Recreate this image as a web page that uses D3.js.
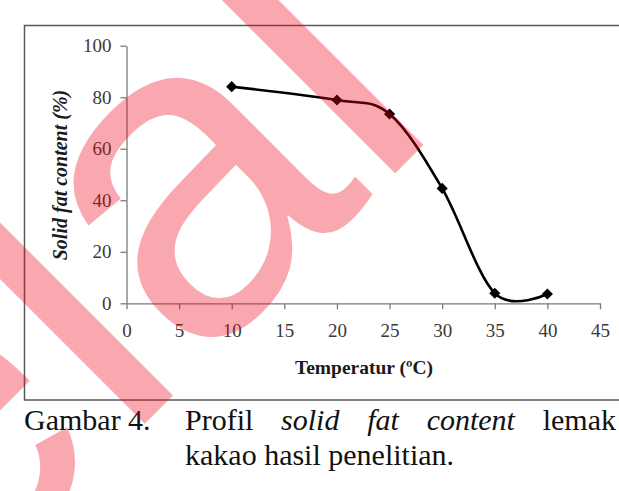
<!DOCTYPE html>
<html>
<head>
<meta charset="utf-8">
<script src="https://cdn.jsdelivr.net/npm/d3@7"></script>
<style>
  html, body { margin: 0; padding: 0; background: #fff; }
  svg { display: block; }
</style>
</head>
<body>
<div id="chart"></div>
<script>
// data
const temps = [10, 20, 25, 30, 35, 40];
const sfc = [84.1, 78.9, 73.5, 44.6, 3.9, 3.6];
const xTicks = [0, 5, 10, 15, 20, 25, 30, 35, 40, 45];
const yTicks = [0, 20, 40, 60, 80, 100];
const xTitle = "Temperatur (\u00baC)";
const yTitle = "Solid fat content (%)";
const captionLabel = "Gambar 4.";
const captionWords = [
  {text: "Profil", italic: false},
  {text: "solid", italic: true},
  {text: "fat", italic: true},
  {text: "content", italic: true},
  {text: "lemak", italic: false}
];
const captionLine2 = "kakao hasil penelitian.";
const stamp = "elal";

const W = 619, H = 491;
const serif = "'Liberation Serif', 'Times New Roman', serif";

const svg = d3.select("#chart")
  .append("svg")
  .attr("width", W)
  .attr("height", H);

// chart frame
svg.append("rect")
  .attr("x", 24.5)
  .attr("y", 25.5)
  .attr("width", 640)
  .attr("height", 374.5)
  .attr("fill", "none")
  .attr("stroke", "#5a5a5a")
  .attr("stroke-width", 1.5);

const x = d3.scaleLinear().domain([0, 45]).range([126.5, 600]);
const y = d3.scaleLinear().domain([0, 100]).range([303.3, 45.7]);

// y axis
const gy = svg.append("g")
  .attr("transform", `translate(${x(0)},0)`)
  .call(d3.axisLeft(y).tickValues(yTicks).tickSize(6).tickSizeOuter(0).tickPadding(9));
gy.select(".domain").attr("stroke", "#7a7a7a").attr("stroke-width", 1.3);
gy.selectAll(".tick line").attr("stroke", "#7a7a7a").attr("stroke-width", 1.3);
gy.selectAll(".tick text")
  .attr("font-family", serif)
  .attr("font-size", 19)
  .attr("fill", "#3a3a3a");

// x axis
const gx = svg.append("g")
  .attr("transform", `translate(0,${y(0)})`)
  .call(d3.axisBottom(x).tickValues(xTicks).tickSize(6).tickSizeOuter(0).tickPadding(14));
gx.select(".domain").attr("stroke", "#7a7a7a").attr("stroke-width", 1.3);
gx.selectAll(".tick line").attr("stroke", "#7a7a7a").attr("stroke-width", 1.3);
gx.selectAll(".tick text")
  .attr("font-family", serif)
  .attr("font-size", 19)
  .attr("fill", "#3a3a3a");

// axis titles
svg.append("text")
  .attr("x", 364)
  .attr("y", 374)
  .attr("text-anchor", "middle")
  .attr("font-family", serif)
  .attr("font-weight", "bold")
  .attr("font-size", 19.5)
  .attr("fill", "#1a1a1a")
  .text(xTitle);

svg.append("text")
  .attr("transform", "translate(67,175) rotate(-90)")
  .attr("text-anchor", "middle")
  .attr("font-family", serif)
  .attr("font-weight", "bold")
  .attr("font-style", "italic")
  .attr("font-size", 20)
  .attr("fill", "#1a1a1a")
  .text(yTitle);

// smoothed line + diamond markers
const pts = temps.map((t, i) => ({t: t, v: sfc[i]}));
svg.append("path")
  .datum(pts)
  .attr("fill", "none")
  .attr("stroke", "#000")
  .attr("stroke-width", 2.6)
  .attr("d", d3.line()
    .x(d => x(d.t))
    .y(d => y(d.v))
    .curve(d3.curveCardinal.tension(0)));

svg.append("g")
  .selectAll("path")
  .data(pts)
  .enter()
  .append("path")
  .attr("transform", d => `translate(${x(d.t)},${y(d.v)}) rotate(45)`)
  .attr("d", d3.symbol().type(d3.symbolSquare).size(62))
  .attr("fill", "#000");

// caption, first line justified between 185 and 616
const capStyle = sel => sel
  .attr("font-family", serif)
  .attr("font-size", 30)
  .attr("fill", "#111");

svg.append("text").attr("x", 24).attr("y", 430).call(capStyle).text(captionLabel);

const words = svg.append("g").selectAll("text")
  .data(captionWords)
  .enter()
  .append("text")
  .attr("y", 430)
  .call(capStyle)
  .attr("font-style", d => d.italic ? "italic" : "normal")
  .text(d => d.text);

const lineStart = 185, lineEnd = 616;
const widths = words.nodes().map(n => n.getComputedTextLength());
const gap = (lineEnd - lineStart - d3.sum(widths)) / (widths.length - 1);
let cursor = lineStart;
words.each(function (d, i) {
  d3.select(this).attr("x", cursor);
  cursor += widths[i] + gap;
});

svg.append("text").attr("x", 185).attr("y", 465).call(capStyle).text(captionLine2);

// red stamp lying over the figure
svg.append("text")
  .attr("transform", "rotate(-45)")
  .attr("x", -481)
  .attr("y", 402)
  .attr("font-family", "'Liberation Sans', Arial, sans-serif")
  .attr("font-size", 455)
  .attr("fill", "rgb(240,0,20)")
  .attr("fill-opacity", 0.34)
  .text(stamp);
</script>
</body>
</html>
